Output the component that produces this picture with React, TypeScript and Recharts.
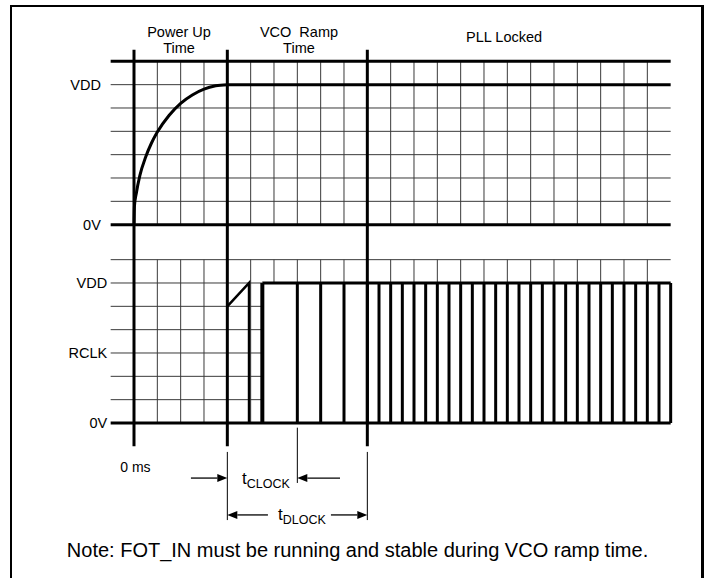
import React from 'react';
import { ComposedChart, Line, XAxis, YAxis, ReferenceLine, ReferenceDot } from 'recharts';

// chart units: x = grid columns (0 = 0 ms), y = grid rows (lower panel 0V = 0)
const TOP_BASE = 8.5; // offset of the upper (power) panel

// Power-up curve (upper panel), level in grid rows above 0V (VDD = 6)
const powerUpTime = [0, 0.02, 0.1, 0.25, 0.5, 0.75, 1, 1.5, 2, 2.5, 3, 3.5, 4];
const powerUpLevel = [0, 0.8, 1.35, 2.1, 2.9, 3.5, 3.97, 4.68, 5.2, 5.56, 5.81, 5.95, 6];

// RCLK start-up (lower panel)
const rclkTime = [4, 4.93, 4.93];
const rclkLevel = [5, 6, 0];
const rclkRise = 5.5;
const clockEdges = [7, 8, 9, 10, 10.5, 11, 11.5, 12, 12.5, 13, 13.5, 14, 14.5, 15, 15.5, 16, 16.5, 17, 17.5, 18, 18.5, 19, 19.5, 20, 20.5, 21, 21.5, 22, 22.5, 23];

const phaseBounds = [0, 4, 10];
const gridCols = [1, 2, 3, 5, 6, 7, 8, 9, 11, 12, 13, 14, 15, 16, 17, 18, 19, 20, 21, 22];
const lowerFullCols = [1, 2, 3, 5];
const rowsInner = [1, 2, 3, 4, 5];
const tStart = -1;
const tEnd = 23;
const VDD = 6;
const TOPROW = 7;

const topLabels = ['0V', 'VDD'];
const topLabelLevels = [0, 6];
const lowLabels = ['0V', 'RCLK', 'VDD'];
const lowLabelLevels = [0, 3, 6];

const FONT = '"Liberation Sans", Arial, Helvetica, sans-serif';

const thin = { stroke: '#3a3a3a', strokeWidth: 1 };
const thick = { stroke: '#000', strokeWidth: 3 };

function seg(key: string, x1: number, y1: number, x2: number, y2: number, style: any) {
  return (
    <ReferenceLine
      key={key}
      segment={[{ x: x1, y: y1 }, { x: x2, y: y2 }]}
      ifOverflow="visible"
      stroke={style.stroke}
      strokeWidth={style.strokeWidth}
    />
  );
}

const ArrowShape = (p: any) => {
  const { x1, y1, x2, y2 } = p;
  const dir = x2 > x1 ? 1 : -1;
  const L = 10;
  const W = 4;
  return (
    <g>
      <line x1={x1} y1={y1} x2={x2 - dir * L} y2={y2} stroke="#000" strokeWidth={1.3} />
      <polygon points={`${x2},${y2} ${x2 - dir * L},${y2 - W} ${x2 - dir * L},${y2 + W}`} fill="#000" />
    </g>
  );
};

function arrow(key: string, from: number, to: number, y: number) {
  return (
    <ReferenceLine
      key={key}
      segment={[{ x: from, y }, { x: to, y }]}
      ifOverflow="visible"
      shape={ArrowShape}
    />
  );
}

function txt(key: string, x: number, y: number, content: any, anchor: string, size: number) {
  return (
    <ReferenceDot
      key={key}
      x={x}
      y={y}
      r={1}
      ifOverflow="visible"
      shape={(p: any) => (
        <text
          x={p.cx}
          y={p.cy}
          textAnchor={anchor}
          fontFamily={FONT}
          fontSize={size}
          fill="#000"
          style={{ whiteSpace: 'pre' }}
        >
          {content}
        </text>
      )}
    />
  );
}

export default function App() {
  const powerData = powerUpTime.map((t, i) => ({ t, v: TOP_BASE + powerUpLevel[i] }));
  const rclkData = rclkTime.map((t, i) => ({ t, v: rclkLevel[i] }));
  const highData = [
    { t: rclkRise, v: VDD },
    { t: tEnd, v: VDD },
  ];

  const els: any[] = [];
  // upper panel grid
  rowsInner.forEach((r) => els.push(seg('tr' + r, tStart, TOP_BASE + r, tEnd, TOP_BASE + r, thin)));
  els.push(seg('tvddthin', tStart, TOP_BASE + VDD, 4, TOP_BASE + VDD, thin));
  gridCols.forEach((c) => els.push(seg('tc' + c, c, TOP_BASE, c, TOP_BASE + TOPROW, thin)));
  // lower panel grid
  rowsInner.forEach((r) => els.push(seg('lr' + r, tStart, r, rclkRise, r, thin)));
  els.push(seg('lvddthin', tStart, VDD, rclkRise, VDD, thin));
  els.push(seg('ltop', tStart, TOPROW, tEnd, TOPROW, thin));
  gridCols.forEach((c) =>
    els.push(seg('lc' + c, c, lowerFullCols.includes(c) ? 0 : VDD, c, TOPROW, thin))
  );
  // thick horizontal lines
  els.push(seg('t0v', tStart, TOP_BASE, tEnd, TOP_BASE, thick));
  els.push(seg('ttop', tStart, TOP_BASE + TOPROW, tEnd, TOP_BASE + TOPROW, thick));
  els.push(seg('tvdd', 4, TOP_BASE + VDD, tEnd, TOP_BASE + VDD, thick));
  els.push(seg('l0v', tStart, 0, tEnd, 0, thick));
  // phase boundaries
  phaseBounds.forEach((b) => els.push(seg('pb' + b, b, -1, b, 16, thick)));
  // clock edges
  els.push(seg('rise', rclkRise, 0, rclkRise, VDD, { stroke: '#000', strokeWidth: 4 }));
  clockEdges.forEach((e) => els.push(seg('ce' + e, e, 0, e, VDD, thick)));
  // timing markers
  els.push(seg('m7', 7, -0.2, 7, -2.57, { stroke: '#000', strokeWidth: 1 }));
  els.push(seg('m4', 4, -1.24, 4, -4.16, { stroke: '#000', strokeWidth: 1 }));
  els.push(seg('m10', 10, -1.24, 10, -4.16, { stroke: '#000', strokeWidth: 1 }));
  els.push(arrow('a1', 2.44, 4, -2.36));
  els.push(arrow('a2', 8.83, 7, -2.36));
  els.push(arrow('a3', 5.74, 4, -3.94));
  els.push(arrow('a4', 8.44, 10, -3.94));

  // texts
  topLabels.forEach((l, i) =>
    els.push(txt('tl' + i, -1.42, TOP_BASE + topLabelLevels[i] - 0.22, l, 'end', 14.5))
  );
  lowLabels.forEach((l, i) => els.push(txt('ll' + i, -1.15, lowLabelLevels[i] - 0.22, l, 'end', 14.5)));
  els.push(txt('p1', 1.93, 16.54, 'Power Up', 'middle', 14.5));
  els.push(txt('p2', 1.93, 15.86, 'Time', 'middle', 14.5));
  els.push(txt('v1', 7.07, 16.54, 'VCO  Ramp', 'middle', 14.5));
  els.push(txt('v2', 7.07, 15.86, 'Time', 'middle', 14.5));
  els.push(txt('pll', 15.86, 16.33, 'PLL Locked', 'middle', 14.5));
  els.push(txt('ms', 0.06, -2.1, '0 ms', 'middle', 14));
  els.push(
    txt(
      'tc',
      4.63,
      -2.61,
      [
        <tspan key="a" fontSize={17}>t</tspan>,
        <tspan key="b" fontSize={12.5} dy={4}>CLOCK</tspan>,
      ],
      'start',
      17
    )
  );
  els.push(
    txt(
      'td',
      6.17,
      -4.16,
      [
        <tspan key="a" fontSize={17}>t</tspan>,
        <tspan key="b" fontSize={12.5} dy={4}>DLOCK</tspan>,
      ],
      'start',
      17
    )
  );
  els.push(
    txt('note', 9.58, -5.74, 'Note: FOT_IN must be running and stable during VCO ramp time.', 'middle', 20)
  );

  return (
    <div style={{ position: 'absolute', left: 0, top: 0, width: 709, height: 578, overflow: 'hidden', background: '#fff' }}>
      <div
        style={{
          position: 'absolute',
          left: 10,
          top: 5,
          width: 694,
          height: 640,
          boxSizing: 'border-box',
          borderLeft: '2px solid #000',
          borderTop: '2px solid #000',
          borderRight: '3px solid #000',
        }}
      />
      <div style={{ position: 'absolute', left: 0, top: 0 }}>
        <ComposedChart width={709} height={578} margin={{ top: 26.33, right: 15, bottom: 15, left: 17.33 }}>
          <XAxis dataKey="t" type="number" domain={[-5, 24]} hide allowDataOverflow />
          <YAxis type="number" domain={[-6, 17]} hide allowDataOverflow />
          {els}
          <Line data={powerData} dataKey="v" type="monotone" stroke="#000" strokeWidth={3} dot={false} isAnimationActive={false} />
          <Line data={rclkData} dataKey="v" type="linear" stroke="#000" strokeWidth={2.5} dot={false} isAnimationActive={false} />
          <Line data={highData} dataKey="v" type="linear" stroke="#000" strokeWidth={3} dot={false} isAnimationActive={false} />
        </ComposedChart>
      </div>
    </div>
  );
}
